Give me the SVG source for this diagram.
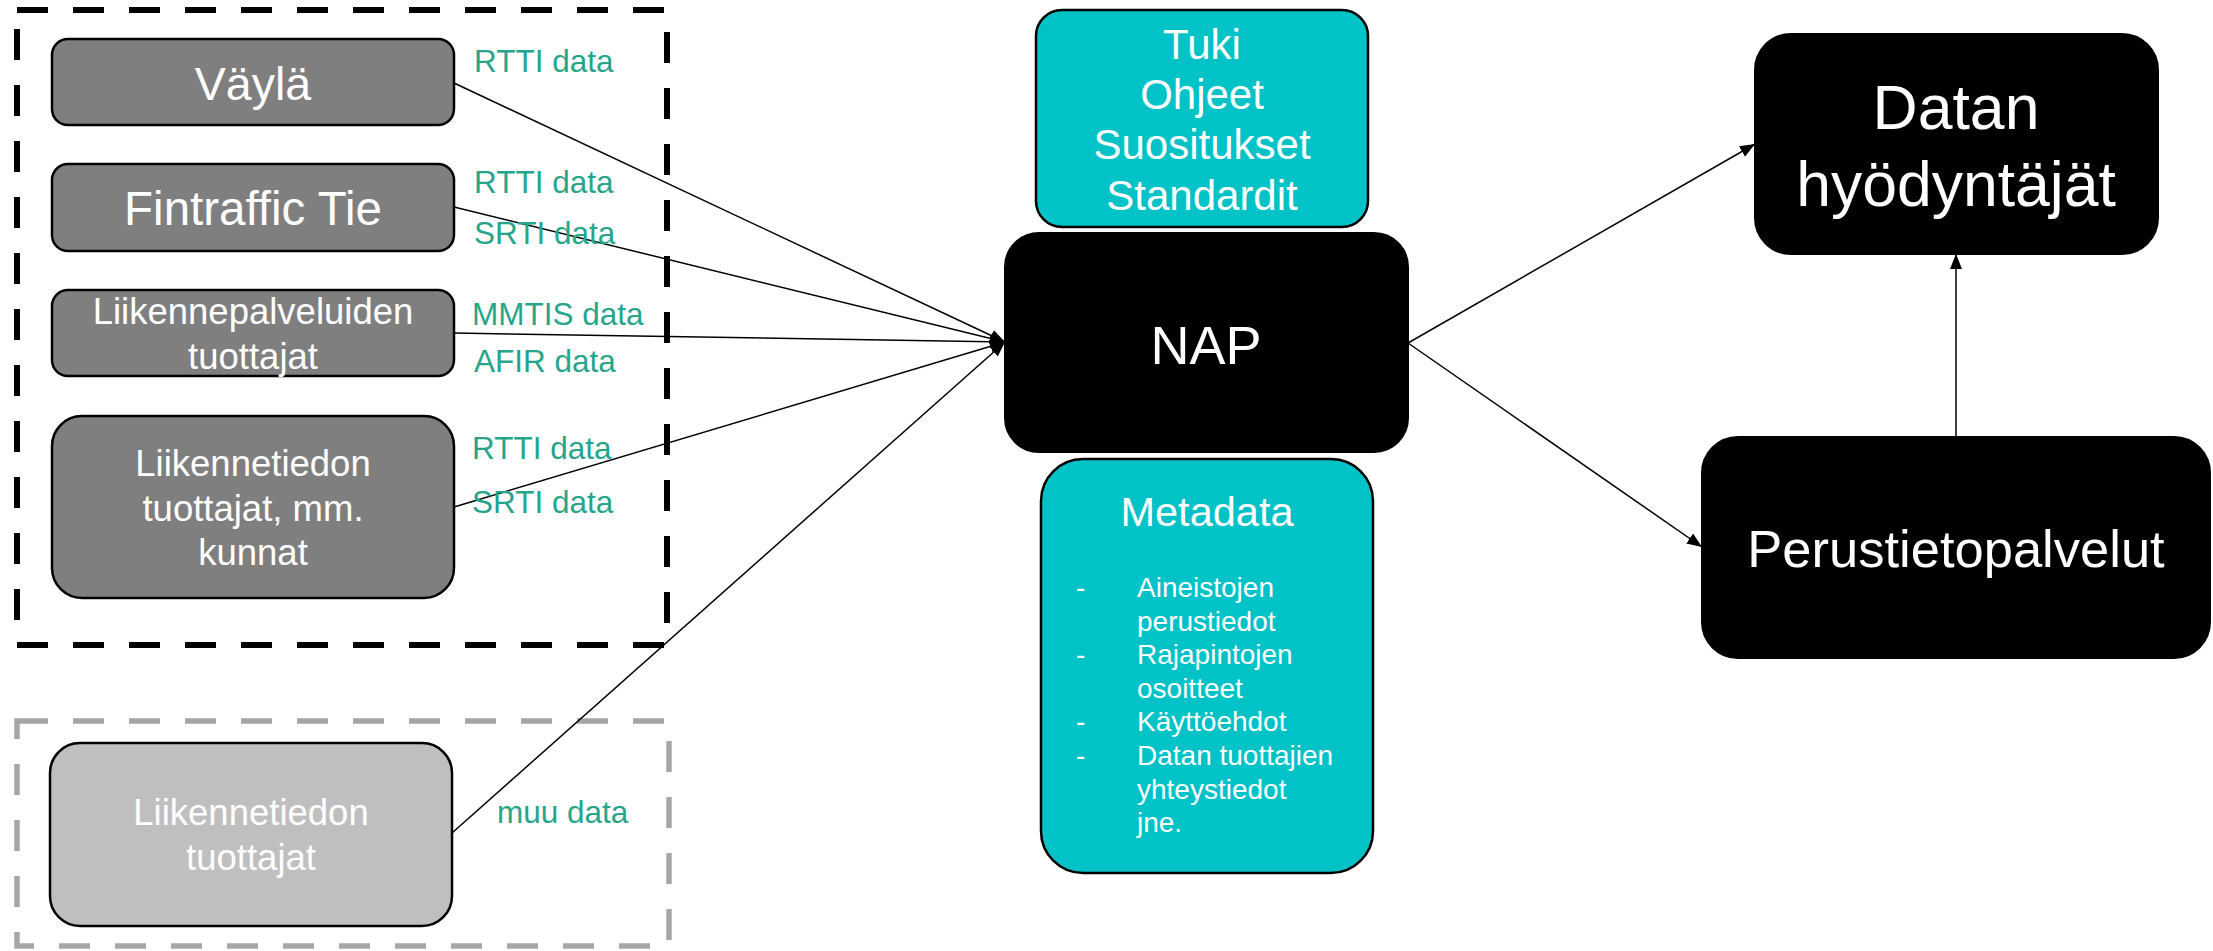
<svg xmlns="http://www.w3.org/2000/svg" width="2213" height="951" viewBox="0 0 2213 951">
<defs>
<style>
.t{font-family:"Liberation Sans",Arial,sans-serif;fill:#ffffff;text-anchor:middle}
.lbl{font-family:"Liberation Sans",Arial,sans-serif;fill:#27a58b;font-size:31.5px}
.dk{fill:#7f7f7f;stroke:#000;stroke-width:2.5}
.cy{fill:#00c2c7;stroke:#000;stroke-width:2.5}
.bk{fill:#000;stroke:#000;stroke-width:2}
.ln{stroke:#000;stroke-width:1.5;fill:none;marker-end:url(#ah)}
.mt{font-family:"Liberation Sans",Arial,sans-serif;fill:#ffffff;font-size:28px}
</style>
<marker id="ah" markerUnits="userSpaceOnUse" markerWidth="16" markerHeight="13" refX="15" refY="6" orient="auto">
<path d="M0,0 L15,6 L0,12 z" fill="#000"/>
</marker>
</defs>
<rect width="2213" height="951" fill="#fff"/>
<g id="group-main">
<rect x="17" y="10" width="650" height="635" fill="none" stroke="#000" stroke-width="6" stroke-dasharray="31 25"/>
</g>
<g id="group-other">
<rect x="17" y="721" width="652" height="225" fill="none" stroke="#a6a6a6" stroke-width="5.5" stroke-dasharray="31 25"/>
</g>
<g id="connectors">
<line class="ln" x1="454" y1="83" x2="1005" y2="342"/>
<line class="ln" x1="454" y1="207" x2="1005" y2="342"/>
<line class="ln" x1="454" y1="333" x2="1005" y2="342"/>
<line class="ln" x1="454" y1="507" x2="1005" y2="342"/>
<line class="ln" x1="452" y1="833" x2="1005" y2="342"/>
<line class="ln" x1="1408" y1="343" x2="1755" y2="144"/>
<line class="ln" x1="1408" y1="343" x2="1702" y2="547"/>
<line class="ln" x1="1956" y1="437" x2="1956" y2="254"/>
</g>
<g id="labels">
<text class="lbl" x="474" y="72">RTTI data</text>
<text class="lbl" x="474" y="193">RTTI data</text>
<text class="lbl" x="474" y="244">SRTI data</text>
<text class="lbl" x="472" y="325">MMTIS data</text>
<text class="lbl" x="474" y="372">AFIR data</text>
<text class="lbl" x="472" y="459">RTTI data</text>
<text class="lbl" x="472" y="513">SRTI data</text>
<text class="lbl" x="497" y="823">muu data</text>
</g>
<g id="vayla">
<rect class="dk" x="52" y="39" width="402" height="86" rx="16"/>
<text class="t" x="253" y="100" font-size="46.5">Väylä</text>
</g>
<g id="fintraffic">
<rect class="dk" x="52" y="164" width="402" height="87" rx="16"/>
<text class="t" x="253" y="225" font-size="47.5">Fintraffic Tie</text>
</g>
<g id="liikennepalvelut">
<rect class="dk" x="52" y="290" width="402" height="86" rx="16"/>
<text class="t" x="253" y="324" font-size="36.5">Liikennepalveluiden</text>
<text class="t" x="253" y="369" font-size="36.5">tuottajat</text>
</g>
<g id="liikennetiedon-kunnat">
<rect class="dk" x="52" y="416" width="402" height="182" rx="30"/>
<text class="t" x="253" y="476" font-size="36.5">Liikennetiedon</text>
<text class="t" x="253" y="521" font-size="36.5">tuottajat, mm.</text>
<text class="t" x="253" y="565" font-size="36.5">kunnat</text>
</g>
<g id="liikennetiedon-muut">
<rect x="50" y="743" width="402" height="183" rx="30" fill="#bfbfbf" stroke="#000" stroke-width="2.5"/>
<text class="t" x="251" y="825" font-size="36.5" fill="#f4f4f4">Liikennetiedon</text>
<text class="t" x="251" y="870" font-size="36.5" fill="#f4f4f4">tuottajat</text>
</g>
<g id="tuki">
<rect class="cy" x="1036" y="10" width="332" height="217" rx="26"/>
<text class="t" x="1202" y="59" font-size="42">Tuki</text>
<text class="t" x="1202" y="109" font-size="42">Ohjeet</text>
<text class="t" x="1202" y="159" font-size="42">Suositukset</text>
<text class="t" x="1202" y="210" font-size="42">Standardit</text>
</g>
<g id="nap">
<rect class="bk" x="1005" y="233" width="403" height="219" rx="34"/>
<text class="t" x="1206" y="364" font-size="54">NAP</text>
</g>
<g id="metadata">
<rect class="cy" x="1041" y="459" width="332" height="414" rx="42"/>
<text class="t" x="1207" y="526" font-size="41.5">Metadata</text>
<text class="mt" x="1076" y="597">-</text>
<text class="mt" x="1137" y="597">Aineistojen</text>
<text class="mt" x="1137" y="630.6">perustiedot</text>
<text class="mt" x="1076" y="664.2">-</text>
<text class="mt" x="1137" y="664.2">Rajapintojen</text>
<text class="mt" x="1137" y="697.8">osoitteet</text>
<text class="mt" x="1076" y="731.4">-</text>
<text class="mt" x="1137" y="731.4">Käyttöehdot</text>
<text class="mt" x="1076" y="765">-</text>
<text class="mt" x="1137" y="765">Datan tuottajien</text>
<text class="mt" x="1137" y="798.6">yhteystiedot</text>
<text class="mt" x="1137" y="832.2">jne.</text>
</g>
<g id="datan-hyodyntajat">
<rect class="bk" x="1755" y="34" width="403" height="220" rx="36"/>
<text class="t" x="1956" y="129" font-size="62.5">Datan</text>
<text class="t" x="1956" y="206" font-size="62.5">hyödyntäjät</text>
</g>
<g id="perustietopalvelut">
<rect class="bk" x="1702" y="437" width="508" height="221" rx="36"/>
<text class="t" x="1956" y="567" font-size="52.5">Perustietopalvelut</text>
</g>
</svg>
